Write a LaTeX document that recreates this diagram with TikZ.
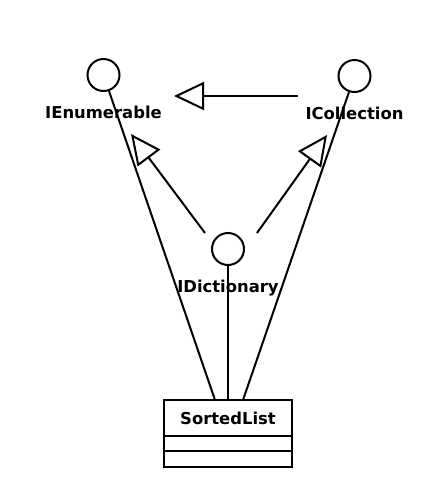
\documentclass[tikz,border=0pt]{standalone}
\usepackage{fontspec}
\setmainfont{DejaVu Sans}
\usetikzlibrary{arrows.meta}
\begin{document}
\begin{tikzpicture}[x=1pt,y=-1pt,line width=2pt,
  lolli/.style={draw,circle,minimum size=32pt,inner sep=0pt},
  lbl/.style={font=\fontsize{16.4}{18}\selectfont\bfseries,inner sep=0pt,anchor=base},
  box/.style={draw,rectangle,minimum width=128pt,inner sep=0pt,outer sep=0pt},
  gen/.style={-{Triangle[open,length=30pt,width=28pt]}}]
\useasboundingbox (0,0) rectangle (446,488);
\def\iface#1#2#3#4{
\node [lolli] (#1) at (#2,#3) {};
\node [lbl] (#1lbl) at (#2,#3+43.5) {#4};
}
\iface{enum}{103.5}{75}{IEnumerable}
\iface{coll}{354.5}{76}{ICollection}
\iface{dict}{228}{249}{IDictionary}
% class box
\node [box,minimum height=36pt,font=\fontsize{16.4}{18}\selectfont\bfseries] (sorted) at (228,418) {SortedList};
\node [box,minimum height=15pt,anchor=north] (attr) at (sorted.south) {};
\node [box,minimum height=16pt,anchor=north] (ops) at (attr.south) {};
% generalization ends
\coordinate (collL) at (298,96);
\coordinate (enumTip) at (174,96);
\coordinate (dictL) at (205,233);
\coordinate (enumTipB) at (131,134);
\coordinate (dictR) at (257,233);
\coordinate (collTip) at (327,135);
\draw [gen] (collL) -- (enumTip);
\draw [gen] (dictL) -- (enumTipB);
\draw [gen] (dictR) -- (collTip);
% realizations
\draw (enum) -- ([xshift=-13pt]sorted.north);
\draw (coll) -- ([xshift=15pt]sorted.north);
\draw (dict) -- (sorted.north);
\end{tikzpicture}
\end{document}
